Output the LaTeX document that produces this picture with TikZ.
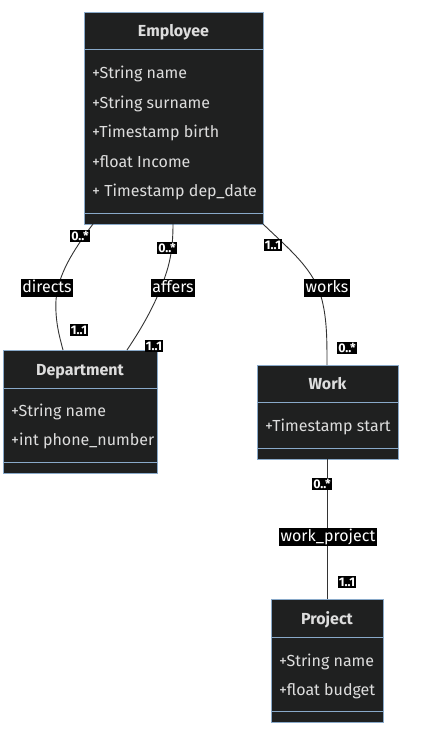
\documentclass[tikz,border=0pt]{standalone}
\usepackage{fontspec}
\setmainfont{Fira Sans}
\usetikzlibrary{calc}
\definecolor{boxfill}{HTML}{1F2020}
\definecolor{boxline}{HTML}{89A9C9}
\definecolor{txt}{HTML}{DDDDDD}
\definecolor{edge}{HTML}{333333}
\begin{document}
\begin{tikzpicture}[x=1pt,y=-1pt,
  classbox/.style={draw=boxline, fill=boxfill, line width=0.8pt, anchor=north west, inner sep=0pt, outer sep=0pt},
  divider/.style={draw=boxline, line width=0.8pt},
  ctitle/.style={text=txt, font=\fontsize{16}{18}\selectfont\bfseries, inner sep=0pt, text height=11.5pt, text depth=3.5pt},
  attr/.style={text=txt, anchor=west, font=\fontsize{16}{18}\selectfont, inner sep=0pt, text height=11.5pt, text depth=3.5pt},
  rel/.style={draw=edge, line width=0.9pt},
  rlabel/.style={fill=black, text=white, font=\fontsize{16}{18}\selectfont, inner sep=1.5pt, text height=11.5pt, text depth=3.5pt},
  mult/.style={fill=black, text=white, font=\fontsize{12.5}{13}\selectfont\bfseries, inner sep=0.8pt, text height=9pt, text depth=0.6pt}]
\fill[white] (0,0) rectangle (426,740);
\useasboundingbox (0,0) rectangle (426,740);

% Employee
\node[classbox, minimum width=179pt, minimum height=212pt] (emp) at (84,12) {};
\draw[divider] ($(emp.north west)+(0,37)$) -- ($(emp.north east)+(0,37)$);
\draw[divider] ($(emp.south west)+(0,-11)$) -- ($(emp.south east)+(0,-11)$);
\node[ctitle] (empt) at (173.5,32.5) {Employee};
\node[attr] (ea1) at (92,74) {+String name};
\node[attr] (ea2) at (92,104) {+String surname};
\node[attr] (ea3) at (92,133) {+Timestamp birth};
\node[attr] (ea4) at (92,163) {+float Income};
\node[attr] (ea5) at (92,192) {+ Timestamp dep\_date};

% Department
\node[classbox, minimum width=154pt, minimum height=123pt] (dep) at (3,350) {};
\draw[divider] ($(dep.north west)+(0,38)$) -- ($(dep.north east)+(0,38)$);
\draw[divider] ($(dep.south west)+(0,-11)$) -- ($(dep.south east)+(0,-11)$);
\node[ctitle] (dept) at (80,371.5) {Department};
\node[attr] (da1) at (11,412) {+String name};
\node[attr] (da2) at (11,441) {+int phone\_number};

% Work
\node[classbox, minimum width=141pt, minimum height=94pt] (work) at (257,365) {};
\draw[divider] ($(work.north west)+(0,37)$) -- ($(work.north east)+(0,37)$);
\draw[divider] ($(work.south west)+(0,-11)$) -- ($(work.south east)+(0,-11)$);
\node[ctitle] (workt) at (327.5,385.5) {Work};
\node[attr] (wa1) at (265,427) {+Timestamp start};

% Project
\node[classbox, minimum width=112pt, minimum height=123pt] (proj) at (271,599) {};
\draw[divider] ($(proj.north west)+(0,38)$) -- ($(proj.north east)+(0,38)$);
\draw[divider] ($(proj.south west)+(0,-11)$) -- ($(proj.south east)+(0,-11)$);
\node[ctitle] (projt) at (327,620.5) {Project};
\node[attr] (pa1) at (279,662) {+String name};
\node[attr] (pa2) at (279,691) {+float budget};

% Relations
\draw[rel] ([xshift=9pt]emp.south west) .. controls (72,252) and (58,275) .. (56,300)
  .. controls (55,320) and (59,335) .. ([xshift=60pt]dep.north west);
\draw[rel] ([xshift=89pt]emp.south west) .. controls (173,255) and (168,270) .. (160,290)
  .. controls (150,315) and (135,338) .. ([xshift=124pt]dep.north west);
\draw[rel] (emp.south east) .. controls (290,250) and (315,270) .. (322,300)
  .. controls (327,320) and (327,340) .. ([xshift=70pt]work.north west);
\draw[rel] (work.south) -- (work.south |- proj.north);

% Labels
\node[rlabel] (ldirects) at (47,288) {directs};
\node[rlabel] (laffers) at (173,288) {affers};
\node[rlabel] (lworks) at (327,288) {works};
\node[rlabel] (lwp) at (328,537) {work\_project};

\node[mult] (m1) at (80,236) {0..*};
\node[mult] (m2) at (79,330) {1..1};
\node[mult] (m3) at (167,248) {0..*};
\node[mult] (m4) at (154,346) {1..1};
\node[mult] (m5) at (273,245) {1..1};
\node[mult] (m6) at (347,348) {0..*};
\node[mult] (m7) at (322,484) {0..*};
\node[mult] (m8) at (347,582) {1..1};
\end{tikzpicture}
\end{document}
